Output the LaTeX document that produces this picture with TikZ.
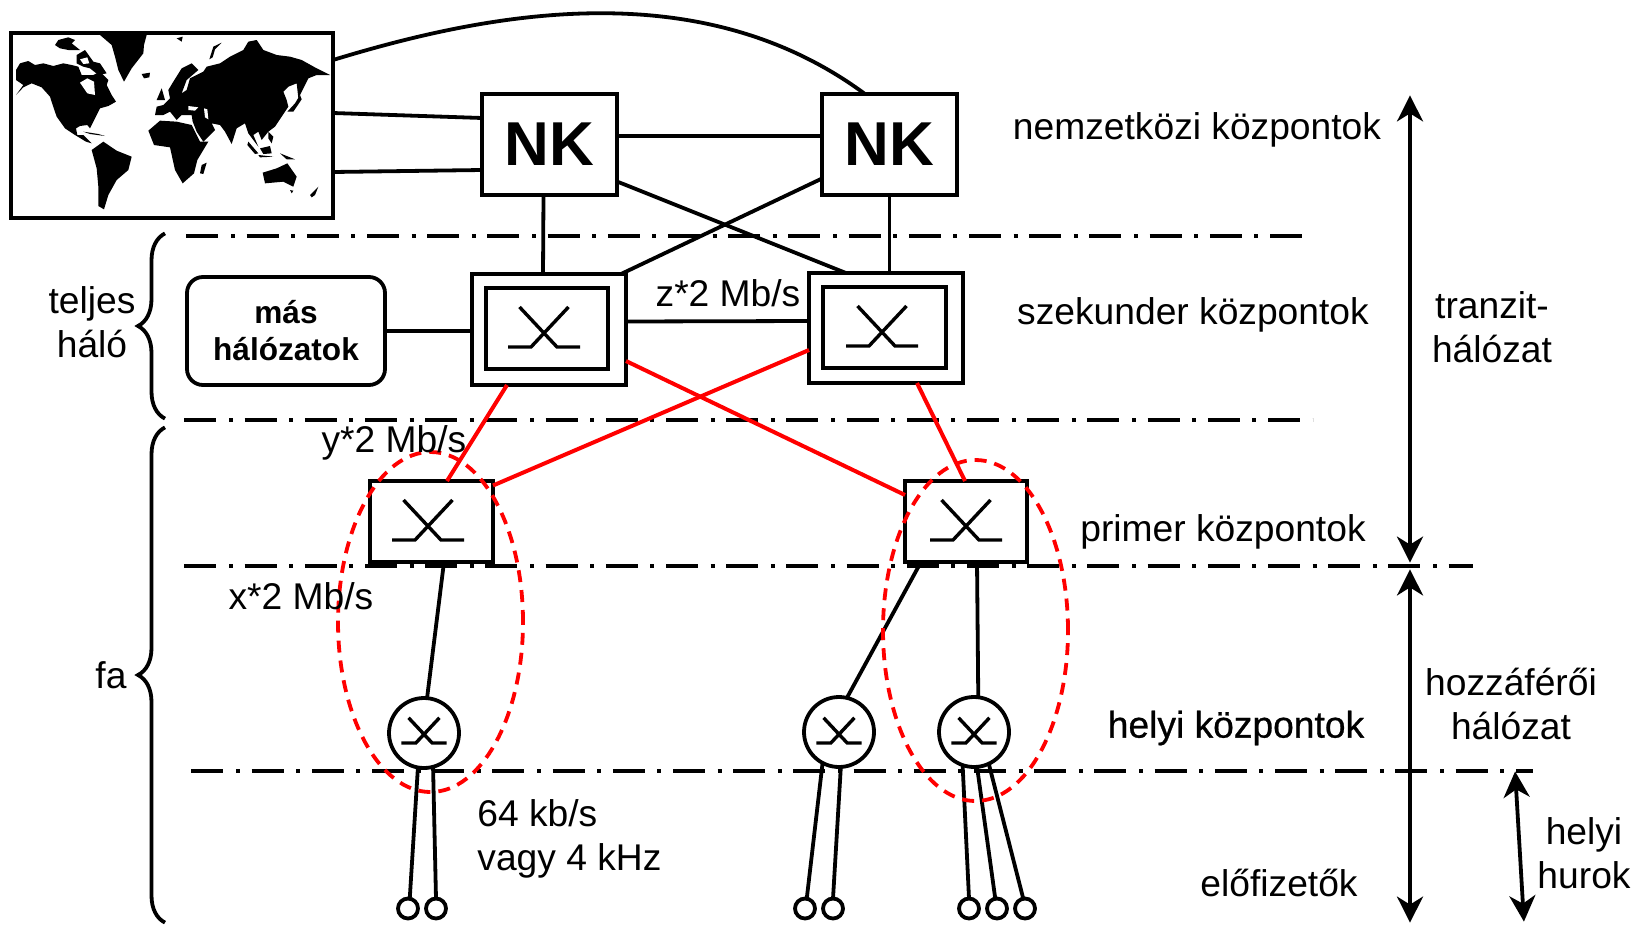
\documentclass[tikz,border=0pt]{standalone}
\usepackage{fontspec}
\usepackage{xcolor}
\setmainfont{Liberation Sans}
\newfontfamily\thickfont[FakeBold=0.7]{Liberation Sans}
\usetikzlibrary{arrows.meta,decorations.pathreplacing,shapes.geometric}
\newcommand{\lbl}{\fontsize{18.6}{22}\selectfont}
\tikzset{
  box/.style={draw,line width=1.9pt,inner sep=0pt,outer sep=0pt},
  hub/.style={box,circle,minimum size=35pt},
  subnode/.style={box,circle,minimum size=10pt},
  levelline/.style={line width=2pt,dash pattern=on 16pt off 6.3pt on 2pt off 5.8pt},
  link/.style={line width=1.9pt},
  redlink/.style={line width=2pt,red},
  zone/.style={line width=1.9pt,red,dash pattern=on 6pt off 4pt},
  span/.style={line width=1.9pt,{Stealth[length=13pt,width=13pt,inset=4pt]}-{Stealth[length=13pt,width=13pt,inset=4pt]}},
  bracket/.style={line width=1.9pt,decorate,decoration={brace,amplitude=13.5pt}},
  txt/.style={font=\lbl,align=center,inner sep=0pt},
  swsym/.pic={
    \draw[line width=1.7pt] (-36,0) -- (-13,0) -- (24.5,-40);
    \draw[line width=1.7pt] (36,0) -- (13,0) -- (-24.5,-40);
  }
}
\begin{document}
\begin{tikzpicture}[x=0.5pt,y=-0.5pt]
  \useasboundingbox (0,0) rectangle (1642,926);

  % levels
  \node[inner sep=0pt] (l1a) at (185,235.5) {};
  \node[inner sep=0pt] (l1b) at (1314,235.5) {};
  \node[inner sep=0pt] (l2a) at (183,420) {};
  \node[inner sep=0pt] (l2b) at (1314,420) {};
  \node[inner sep=0pt] (l3a) at (183,566) {};
  \node[inner sep=0pt] (l3b) at (1474,566) {};
  \node[inner sep=0pt] (l4a) at (190,771) {};
  \node[inner sep=0pt] (l4b) at (1534,771) {};
  \foreach \n in {1,2,3,4}
    \draw[levelline] (l\n a) -- (l\n b);

  % world map
  \node[box,minimum width=161pt,minimum height=92.5pt] (world) at (172,125.5) {};
  \begin{scope}[x=0.16667pt,y=-0.16667pt]
    % north america
    \fill (48,210) -- (60,190) -- (85,183) -- (105,195) -- (130,190) -- (160,198) -- (190,190) -- (215,195) -- (235,200) -- (245,225) -- (280,225) -- (300,215) -- (325,240) -- (320,255) -- (335,285) -- (348,305) -- (325,318) -- (300,325) -- (290,345) -- (280,365) -- (270,385) -- (262,375) -- (240,378) -- (228,385) -- (232,405) -- (250,405) -- (275,430) -- (258,425) -- (225,405) -- (195,385) -- (170,350) -- (158,315) -- (150,290) -- (125,262) -- (95,250) -- (70,262) -- (48,285) -- (70,255) -- (48,240) -- cycle;
    % hudson bay
    \fill[white] (240,248) -- (262,235) -- (282,245) -- (285,285) -- (262,280) -- cycle;
    % arctic islands
    \fill (165,135) -- (175,120) -- (205,112) -- (225,120) -- (215,130) -- (240,150) -- (205,150) -- (180,145) -- cycle;
    \fill (230,165) -- (255,150) -- (280,185) -- (300,190) -- (320,220) -- (295,225) -- (270,205) -- (250,200) -- (230,190) -- cycle;
    \fill[white] (240,178) -- (262,172) -- (268,190) -- (250,192) -- cycle;
    % greenland, iceland
    \fill (300,105) -- (440,105) -- (432,135) -- (430,160) -- (395,205) -- (372,245) -- (355,210) -- (345,170) -- (335,135) -- cycle;
    \fill (425,222) -- (450,218) -- (448,232) -- (432,235) -- cycle;
    % caribbean
    \fill (250,395) -- (295,402) -- (315,408) -- (270,402) -- cycle;
    % south america
    \fill (275,450) -- (310,425) -- (350,452) -- (395,470) -- (385,510) -- (350,540) -- (325,585) -- (312,628) -- (295,618) -- (295,560) -- (290,505) -- cycle;
    % eurasia
    \fill (465,345) -- (470,320) -- (490,315) -- (510,295) -- (505,270) -- (520,245) -- (545,205) -- (575,190) -- (595,210) -- (560,240) -- (545,280) -- (560,270) -- (570,235) -- (610,215) -- (620,200) -- (660,190) -- (690,170) -- (730,150) -- (745,125) -- (770,120) -- (790,150) -- (830,165) -- (870,170) -- (905,180) -- (950,205) -- (990,225) -- (950,225) -- (925,235) -- (905,275) -- (895,295) -- (890,250) -- (865,260) -- (850,275) -- (860,300) -- (865,320) -- (845,350) -- (825,380) -- (805,395) -- (785,420) -- (775,395) -- (760,405) -- (775,440) -- (745,400) -- (735,370) -- (710,385) -- (695,432) -- (675,395) -- (660,375) -- (635,370) -- (645,390) -- (610,425) -- (590,395) -- (578,365) -- (575,345) -- (545,345) -- (530,360) -- (510,335) -- (490,345) -- cycle;
    % black sea, caspian
    \fill[white] (565,318) -- (595,322) -- (585,332) -- (565,330) -- cycle;
    \fill[white] (612,325) -- (622,328) -- (625,358) -- (615,352) -- cycle;
    % africa
    \fill (445,392) -- (480,362) -- (530,365) -- (575,375) -- (600,425) -- (625,425) -- (592,480) -- (582,520) -- (548,550) -- (525,510) -- (510,442) -- (462,435) -- cycle;
    \fill (605,495) -- (620,488) -- (610,522) -- (600,520) -- cycle;
    % australia
    \fill (788,518) -- (830,505) -- (862,490) -- (890,530) -- (880,560) -- (850,545) -- (795,550) -- cycle;
    % islands
    \fill (470,300) -- (485,265) -- (495,300) -- cycle;
    \fill (530,115) -- (548,110) -- (545,125) -- cycle;
    \fill (628,178) -- (640,140) -- (665,128) -- (645,148) -- (638,172) -- cycle;
    \fill (745,425) -- (775,460) -- (765,462) -- (742,435) -- cycle;
    \fill (775,465) -- (820,470) -- (780,472) -- cycle;
    \fill (780,445) -- (810,438) -- (815,460) -- (790,462) -- cycle;
    \fill (840,460) -- (885,478) -- (860,478) -- cycle;
    \fill (805,395) -- (820,410) -- (815,430) -- (805,415) -- cycle;
    \fill (862,335) -- (885,310) -- (900,285) -- (905,298) -- (880,335) -- cycle;
    \fill (930,585) -- (955,560) -- (945,585) -- (935,592) -- cycle;
    \fill (870,570) -- (880,572) -- (875,580) -- cycle;
  \end{scope}

  % exchanges
  \node[box,minimum width=67.5pt,minimum height=50.5pt,font=\fontsize{31}{31}\selectfont\bfseries] (nk1) at (549.5,144.5) {NK};
  \node[box,minimum width=67.5pt,minimum height=50.5pt,font=\fontsize{31}{31}\selectfont\bfseries] (nk2) at (889.5,144.5) {NK};
  \node[box,minimum width=77pt,minimum height=55.5pt] (sec1) at (549,329.5) {};
  \node[box,minimum width=61pt,minimum height=40.5pt] (sec1in) at (547,328.5) {};
  \node[box,minimum width=77pt,minimum height=55pt] (sec2) at (886,328) {};
  \node[box,minimum width=61.5pt,minimum height=40.5pt] (sec2in) at (884.5,327.5) {};
  \node[box,rounded corners=8pt,minimum width=99pt,minimum height=54pt,align=center,font=\fontsize{15.8}{18.5}\selectfont\bfseries] (other) at (286,331) {más\\hálózatok};
  \node[box,minimum width=61.5pt,minimum height=40.5pt] (prim1) at (431.5,521.5) {};
  \node[box,minimum width=61pt,minimum height=40.5pt] (prim2) at (966,521.5) {};
  \node[hub] (hub1) at (424,733) {};
  \node[hub] (hub2) at (839,732) {};
  \node[hub] (hub3) at (974,732) {};
  \foreach \name/\x in {s1/408,s2/436,s3/805,s4/833,s5/969,s6/997,s7/1025}
    \node[subnode] (\name) at (\x,908.5) {};

  \pic at (544,347) {swsym};
  \pic at (882,346) {swsym};
  \pic at (428,540) {swsym};
  \pic at (966,540) {swsym};
  \pic[scale=.63] at (424,743) {swsym};
  \pic[scale=.63] at (839,743) {swsym};
  \pic[scale=.63] at (974,743) {swsym};

  % black links
  \draw[link] ([shift={(0,-65.5)}]world.east) .. controls (490,12) and (700,-28) .. ([shift={(-24.5,0)}]nk2.north);
  \draw[link] ([shift={(0,-12.5)}]world.east) -- ([shift={(0,-26.5)}]nk1.west);
  \draw[link] ([shift={(0,46.5)}]world.east) -- ([shift={(0,25.5)}]nk1.west);
  \draw[link] ([shift={(0,-8.5)}]nk1.east) -- ([shift={(0,-8.5)}]nk2.west);
  \draw[link] ([shift={(-6,0)}]nk1.south) -- ([shift={(-6,0)}]sec1.north);
  \draw[link] (nk2.south) -- (nk2.south |- sec2.north);
  \draw[link] ([shift={(0,37)}]nk1.east) -- ([shift={(-40,0)}]sec2.north);
  \draw[link] ([shift={(0,34)}]nk2.west) -- ([shift={(72,0)}]sec1.north);
  \draw[link] (other.east) -- (other.east -| sec1.west);
  \draw[link] ([shift={(0,-8)}]sec1.east) -- ([shift={(0,-7)}]sec2.west);
  \draw[link] ([shift={(12.5,0)}]prim1.south) -- (hub1.85);
  \draw[link] ([shift={(-45,0)}]prim2.south) -- (hub2.77);
  \draw[link] ([shift={(11,0)}]prim2.south) -- (hub3.83);
  \draw[link] (hub1.-100) -- (s1.80);
  \draw[link] (hub1.-75) -- (s2.north);
  \draw[link] (hub2.-118) -- (s3.80);
  \draw[link] (hub2.-87) -- (s4.north);
  \draw[link] (hub3.-109) -- (s5.north);
  \draw[link] (hub3.-85) -- (s6.100);
  \draw[link] (hub3.-65) -- (s7.100);

  % red links
  \draw[redlink] ([shift={(-42,0)}]sec1.south) -- ([shift={(15.5,0)}]prim1.north);
  \draw[redlink] ([shift={(0,22)}]sec2.west) -- ([shift={(0,-36)}]prim1.east);
  \draw[redlink] ([shift={(0,31.5)}]sec1.east) -- ([shift={(0,-26.5)}]prim2.west);
  \draw[redlink] ([shift={(31,0)}]sec2.south) -- ([shift={(-1,0)}]prim2.north);

  % zones
  \node[zone,draw,ellipse,minimum width=92.5pt,minimum height=170pt,inner sep=0pt] (zone1) at (430.5,622) {};
  \node[zone,draw,ellipse,minimum width=92.5pt,minimum height=170.5pt,inner sep=0pt] (zone2) at (975.5,630.5) {};

  % spans
  \node[inner sep=0pt] (a1) at (1410,94) {};
  \node[inner sep=0pt] (a2) at (1410,564) {};
  \node[inner sep=0pt] (a3) at (1410,568) {};
  \node[inner sep=0pt] (a4) at (1410,924) {};
  \node[inner sep=0pt] (a5) at (1515,770) {};
  \node[inner sep=0pt] (a6) at (1524,923) {};
  \draw[span] (a1) -- (a2);
  \draw[span] (a3) -- (a4);
  \draw[span] (a5) -- (a6);

  % braces
  \node[inner sep=0pt] (b1) at (165,420) {};
  \node[inner sep=0pt] (b2) at (165,232) {};
  \node[inner sep=0pt] (b3) at (165,924) {};
  \node[inner sep=0pt] (b4) at (165,426) {};
  \draw[bracket] (b1) -- (b2);
  \draw[bracket] (b3) -- (b4);

  % labels
  \node[txt] (tintl) at (1197,130) {nemzetközi központok};
  \node[txt] (tsec) at (1193,315) {szekunder központok};
  \node[txt] (tprim) at (1223,532) {primer központok};
  \node[txt,font=\lbl\thickfont] (tlocal) at (1236,728) {helyi központok};
  \node[txt] (tsub) at (1279,883) {előfizetők};
  \node[txt] (ttrans) at (1492,327) {tranzit-\\hálózat};
  \node[txt] (taccess) at (1511,704) {hozzáférői\\hálózat};
  \node[txt] (tloop) at (1584,853) {helyi\\hurok};
  \node[txt] (tfull) at (92,322) {teljes\\háló};
  \node[txt] (ttree) at (111,675) {fa};
  \node[txt] (tz) at (728,293) {z*2 Mb/s};
  \node[txt] (ty) at (394,443) {y*2 Mb/s};
  \node[txt] (tx) at (301,596) {x*2 Mb/s};
  \node[txt,align=left,anchor=west] (trate) at (477,839) {64 kb/s\\vagy 4 kHz};
\end{tikzpicture}
\end{document}
